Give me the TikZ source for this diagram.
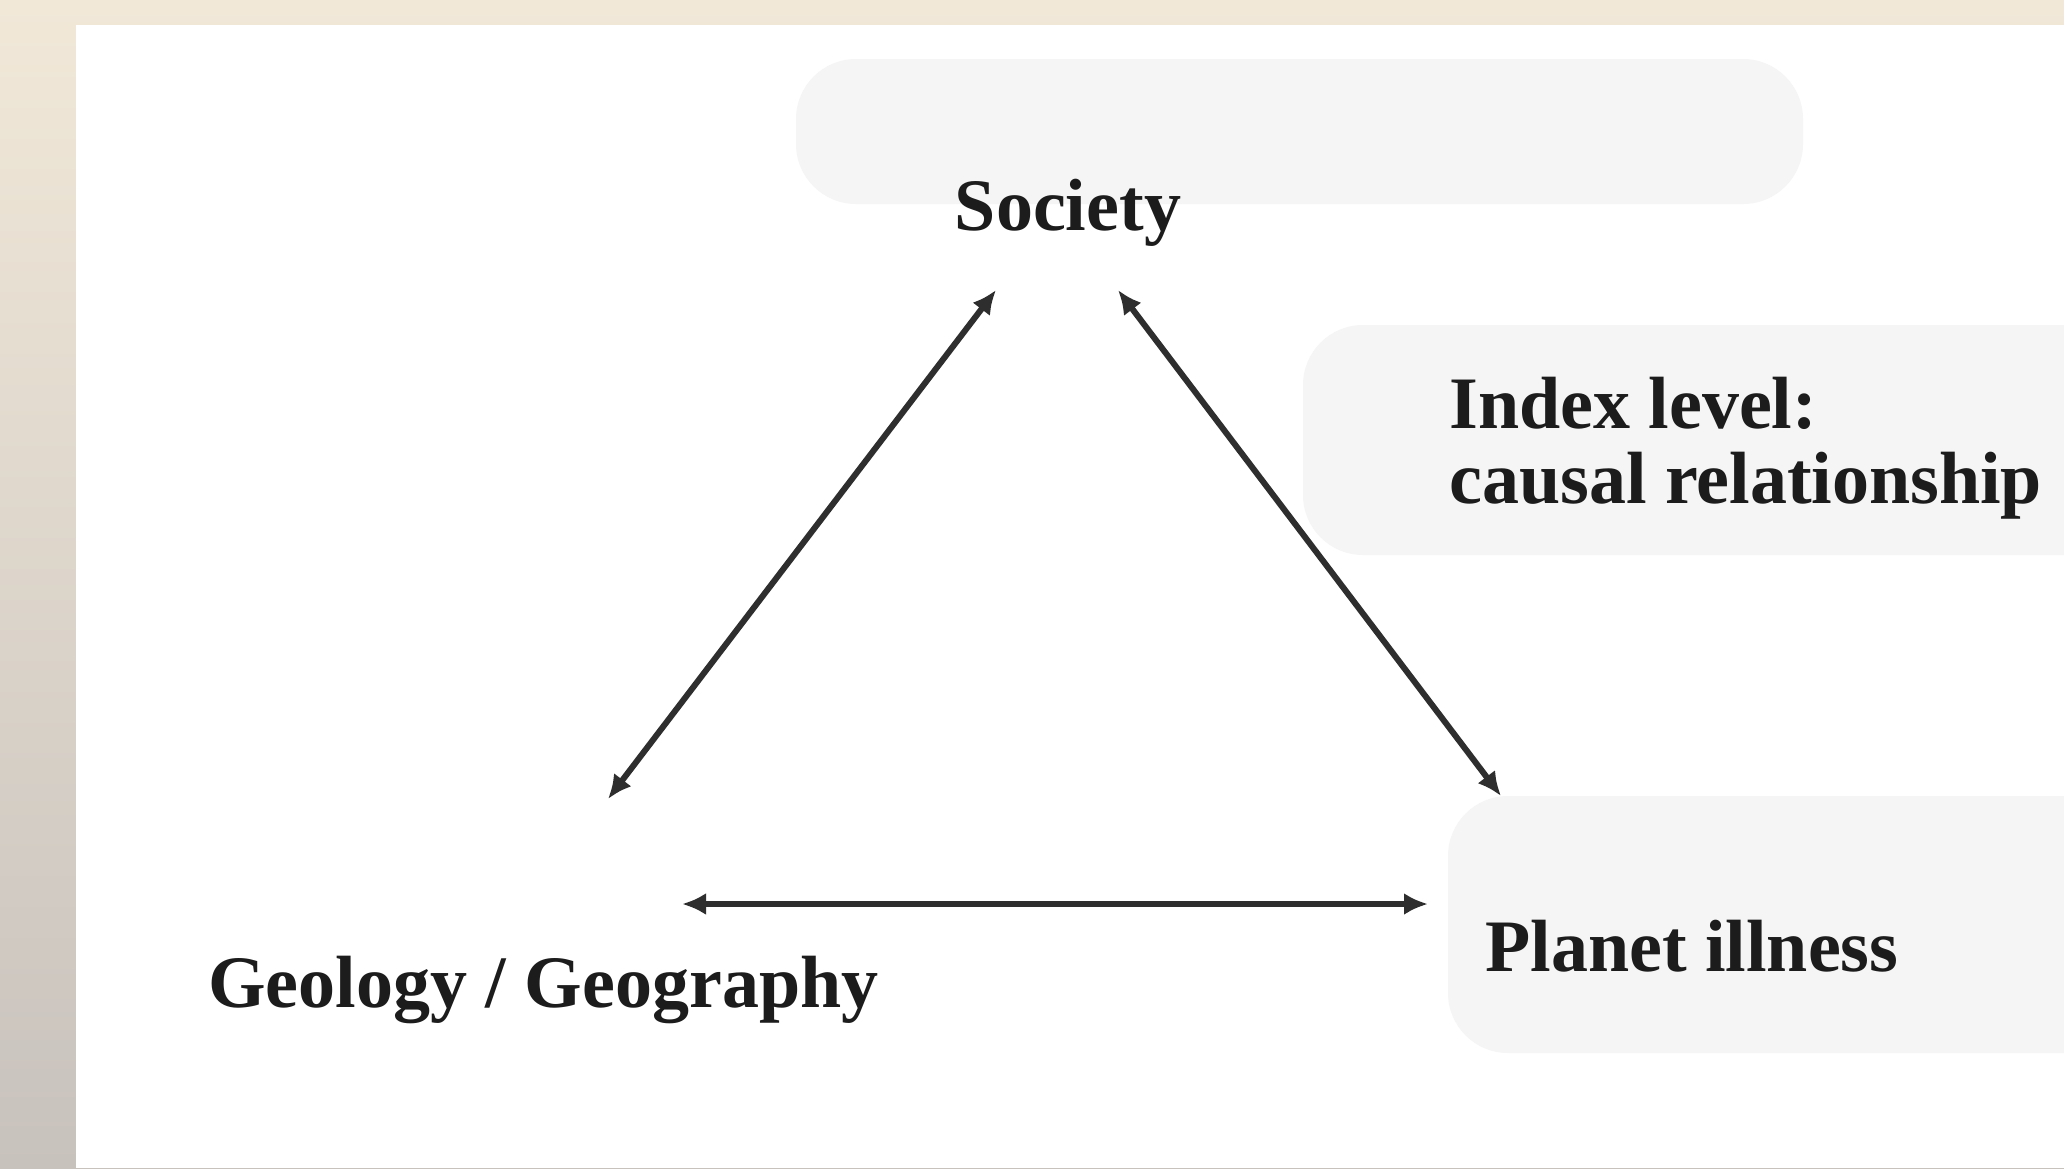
\documentclass[tikz,border=0pt]{standalone}
\usepackage{fontspec}
\setmainfont{Liberation Serif}
\usetikzlibrary{arrows.meta}
\definecolor{patchgray}{HTML}{F5F5F5}
\definecolor{arrowgray}{HTML}{2E2E2E}
\definecolor{bgbeige}{HTML}{F1E8D8}
\definecolor{bggray}{HTML}{C8C2BD}
\definecolor{textdark}{HTML}{1C1C1C}
\begin{document}
\begin{tikzpicture}[x=1pt,y=-1pt,
  lbl/.style={font=\fontsize{74}{75}\selectfont\bfseries, text=textdark, inner sep=0pt},
  link/.style={arrowgray, line width=6pt, {Latex[length=24pt,width=22pt]}-{Latex[length=24pt,width=22pt]}},
  patch/.style={fill=patchgray, rounded corners=60pt}]
\useasboundingbox (0,0) rectangle (2064,1168);
\shade[top color=bgbeige, bottom color=bggray] (0,0) rectangle (2064,1168);
\fill[white] (76,25) rectangle (2064,1168);
\fill[patch] (796,59) rectangle (1803,204);
\fill[patch] (1303,325) rectangle (2160,555);
\fill[patch] (1448,796) rectangle (2160,1053);
\node[lbl, anchor=base] (soc) at (1068,230) {Society};
\node[lbl, anchor=base west] (geo) at (208,1007) {Geology / Geography};
\node[lbl, anchor=base west] (ill) at (1485,971) {Planet illness};
\node[lbl, anchor=base west, align=left] (idx) at (1449,503) {Index level:\\causal relationship};
\coordinate (sL) at (996,290);
\coordinate (gT) at (608,799);
\coordinate (sR) at (1118,290);
\coordinate (iT) at (1501,796);
\coordinate (gR) at (682,904);
\coordinate (iL) at (1428,904);
\draw[link] (gT) -- (sL);
\draw[link] (sR) -- (iT);
\draw[link] (gR) -- (iL);
\end{tikzpicture}
\end{document}
